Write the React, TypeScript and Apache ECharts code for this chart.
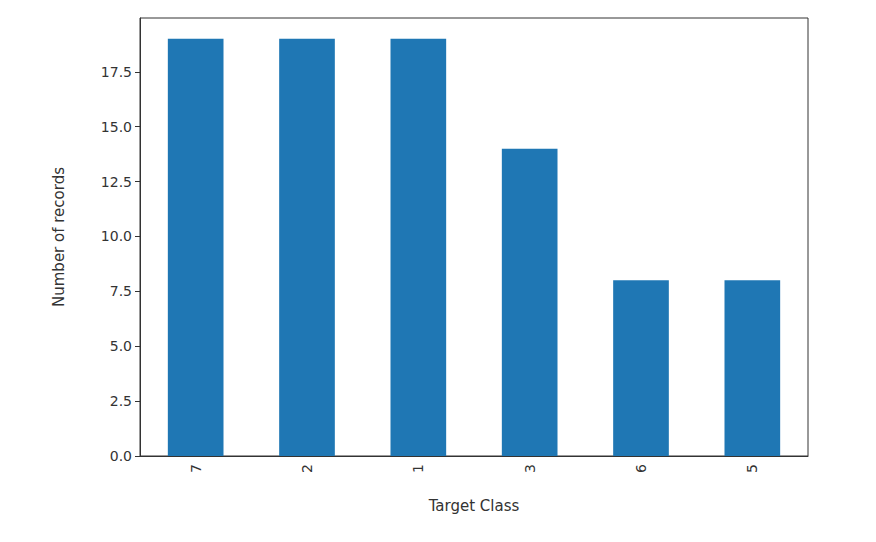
import { useEffect, useRef } from 'react';
import * as echarts from 'echarts';

const categories = ['7', '2', '1', '3', '6', '5'];
const counts = [19, 19, 19, 14, 8, 8];
const yMax = 19.95;

export default function App() {
  const ref = useRef<HTMLDivElement>(null);

  useEffect(() => {
    document.body.style.margin = '0';
    if (!ref.current) return;
    const chart = echarts.init(ref.current, undefined, { renderer: 'svg' });
    const font = 'DejaVu Sans';
    chart.setOption({
      animation: false,
      backgroundColor: '#fff',
      grid: {
        left: 140, right: 68, top: 18, bottom: 86,
        show: true, borderColor: '#333', borderWidth: 1,
      },
      xAxis: {
        type: 'category',
        data: categories,
        name: 'Target Class',
        nameLocation: 'middle',
        nameGap: 42,
        nameTextStyle: { fontFamily: font, fontSize: 15, color: '#333' },
        axisLine: { lineStyle: { color: '#333' } },
        axisTick: { alignWithLabel: true, length: 5, lineStyle: { color: '#333' } },
        axisLabel: { rotate: 90, fontFamily: font, fontSize: 14, color: '#333', margin: 8 },
      },
      yAxis: {
        type: 'value',
        min: 0,
        max: yMax,
        interval: 2.5,
        name: 'Number of records',
        nameLocation: 'middle',
        nameGap: 74,
        nameTextStyle: { fontFamily: font, fontSize: 15, color: '#333' },
        splitLine: { show: false },
        axisLine: { show: true, lineStyle: { color: '#333' } },
        axisTick: { show: true, length: 5, lineStyle: { color: '#333' } },
        axisLabel: {
          fontFamily: font, fontSize: 14, color: '#333', showMaxLabel: false,
          formatter: (v: number) => (Math.abs(v % 2.5) < 1e-9 ? v.toFixed(1) : ''),
        },
      },
      series: [
        {
          type: 'bar',
          data: counts,
          barWidth: '50%',
          itemStyle: { color: '#1f77b4' },
        },
      ],
    });
    return () => chart.dispose();
  }, []);

  return <div ref={ref} style={{ width: 876, height: 542 }} />;
}
